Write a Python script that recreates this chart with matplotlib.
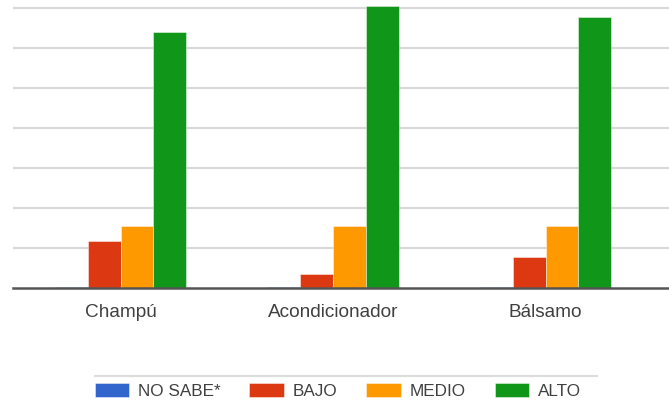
import matplotlib
matplotlib.use("Agg")
import matplotlib.pyplot as plt
from matplotlib.lines import Line2D
import numpy as np

plt.rcParams['font.family'] = ['Liberation Sans', 'DejaVu Sans']

categories = ["Champú", "Acondicionador", "Bálsamo"]
series_names = ["NO SABE*", "BAJO", "MEDIO", "ALTO"]
no_sabe = [0.03, 0.03, 0.03]
bajo = [1.19, 0.36, 0.79]
medio = [1.55, 1.55, 1.55]
alto = [6.38, 7.04, 6.76]
colors = ["#3366cc", "#dc3912", "#ff9900", "#109618"]

W, H = 669, 413
fig = plt.figure(figsize=(W / 100, H / 100), dpi=100)
left, base, top = 13, 288.3, 0
ax = fig.add_axes([left / W, (H - base) / H, 1 - left / W, (base - top) / H])

x = np.arange(len(categories))
width = 0.155
series = [no_sabe, bajo, medio, alto]
handles = []
for i, (vals, col, name) in enumerate(zip(series, colors, series_names)):
    b = ax.bar(x + (i - 1.5) * width, vals, width, color=col,
               edgecolor=(1, 1, 1, 0.45), linewidth=0.7, label=name, zorder=3)
    handles.append(b)

ax.set_ylim(0, base / 40.1)
ax.set_xlim(-(120.5 - left) / 212.5, 2 + (W - 545.5) / 212.5)
ax.set_yticks(np.arange(1, 8))
ax.yaxis.grid(True, color="#d9d9d9", linewidth=1.6, zorder=0)
ax.tick_params(axis="y", left=False, labelleft=False)
ax.set_xticks(x)
ax.set_xticklabels(categories, fontsize=13.7, color="#404040")
ax.tick_params(axis="x", length=0, pad=11)
for s in ax.spines.values():
    s.set_visible(False)
ax.axhline(0, color="#555555", linewidth=1.8, zorder=4, clip_on=False)

# separator above the legend
fig.add_artist(Line2D([95 / W, 597 / W], [(H - 376) / H] * 2,
                      color="#dddddd", linewidth=1.6, transform=fig.transFigure))

leg = fig.legend(handles=handles, labels=series_names, loc="center",
                 bbox_to_anchor=(338 / W, (H - 391) / H), ncol=4, frameon=False,
                 fontsize=12.3, handlelength=2.0, handleheight=0.85,
                 handletextpad=0.55, columnspacing=1.68, borderpad=0)
for t in leg.get_texts():
    t.set_color("#404040")

fig.savefig("out.png", dpi=100)
